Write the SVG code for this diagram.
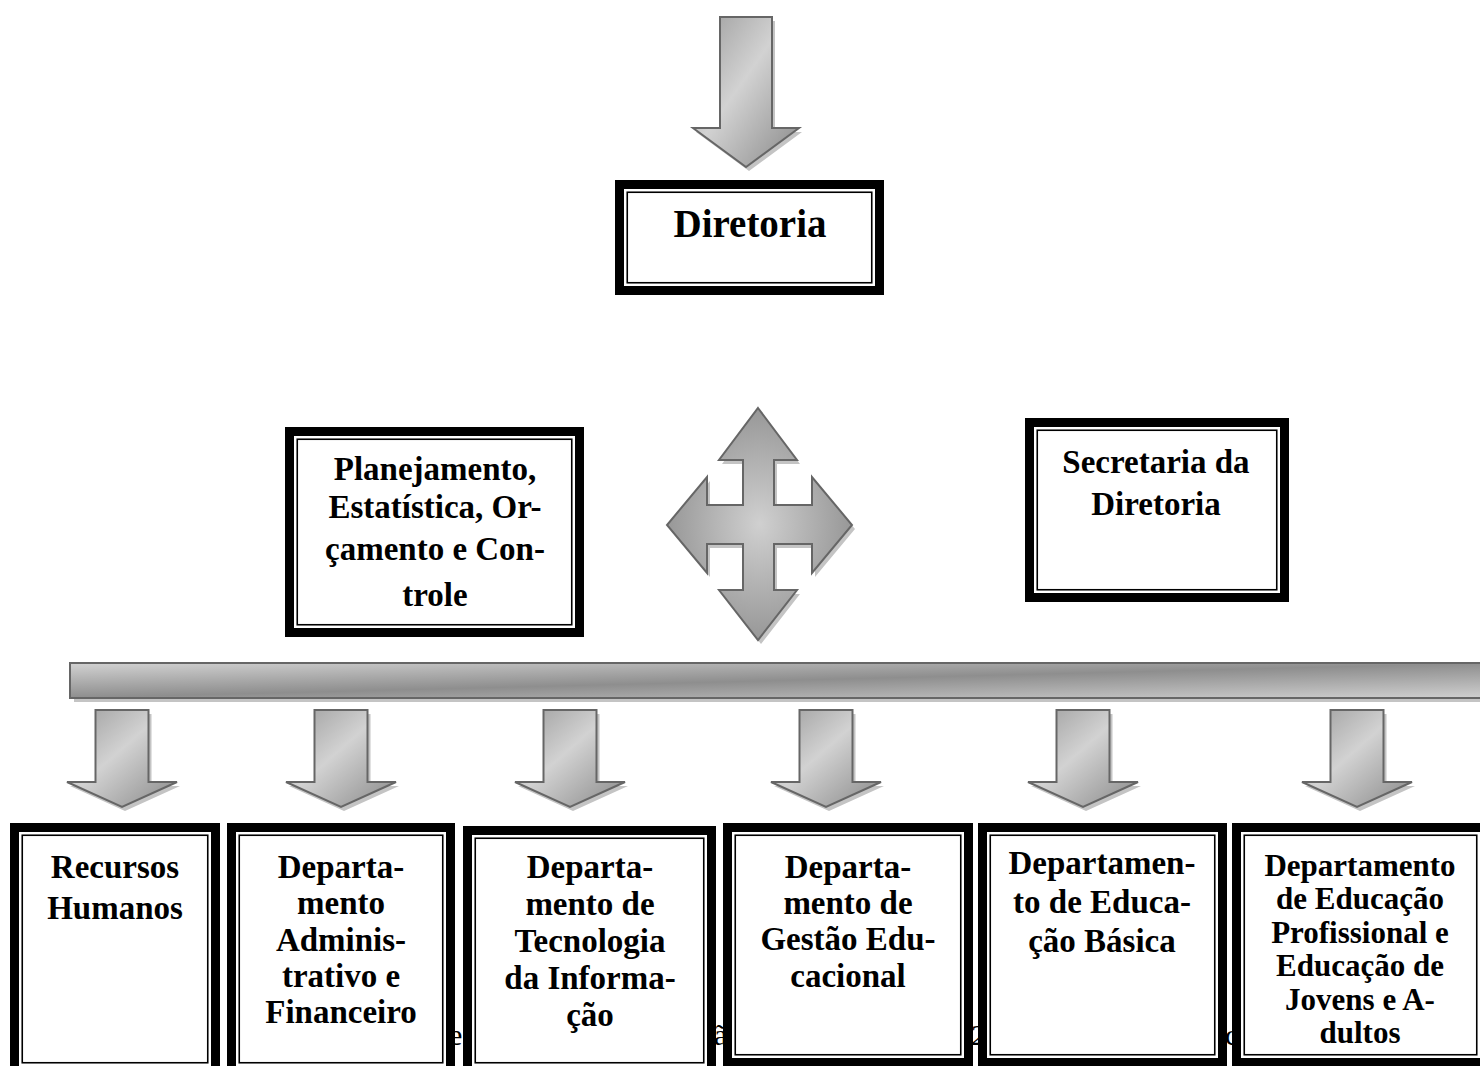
<svg xmlns="http://www.w3.org/2000/svg" width="1480" height="1066" viewBox="0 0 1480 1066">
<style>
.thick{fill:#fff;stroke:#000;stroke-width:9}
.thin{fill:none;stroke:#000;stroke-width:1.6}
.t{font-family:"Liberation Serif","Times New Roman",serif;font-weight:bold;font-size:33px;fill:#000;text-anchor:middle}
.stray{font-family:"Liberation Serif","Times New Roman",serif;font-size:30px;fill:#000}
.arr{fill:url(#ga);stroke:#666;stroke-width:2;stroke-linejoin:miter}
.sh{fill:#c4c4c4}
</style>
<defs>
<linearGradient id="ga" x1="0" y1="0" x2="1" y2="1">
<stop offset="0" stop-color="#9a9a9a"/>
<stop offset="0.45" stop-color="#d2d2d2"/>
<stop offset="1" stop-color="#888"/>
</linearGradient>
<radialGradient id="gr" cx="0.5" cy="0.5" r="0.6">
<stop offset="0" stop-color="#d0d0d0"/>
<stop offset="1" stop-color="#8c8c8c"/>
</radialGradient>
<linearGradient id="gb" x1="0" y1="0" x2="1" y2="1">
<stop offset="0" stop-color="#d2d2d2"/>
<stop offset="0.5" stop-color="#8e8e8e"/>
<stop offset="1" stop-color="#d0d0d0"/>
</linearGradient>
<path id="small" d="M-26.5,0 H26.5 V72 H55 L0,97 L-55,72 H-26.5 Z"/>
</defs>

<g id="stray-text">
<text class="stray" x="449" y="1045">e</text>
<text class="stray" x="714" y="1045">ã</text>
<text class="stray" x="971" y="1045">2</text>
<text class="stray" x="1225" y="1045">c</text>
</g>

<g id="connectors">
<g id="top-arrow">
<path class="sh" transform="translate(3,4)" d="M720,17 H772 V128 H799 L746,167 L693,128 H720 Z"/>
<path class="arr" d="M720,17 H772 V128 H799 L746,167 L693,128 H720 Z"/>
</g>
<g id="quad-arrow">
<path class="sh" transform="translate(3,4)" d="M758,408 L797,460 L774,460 L774,505 L812,505 L812,477 L852,525 L812,573 L812,544 L774,544 L774,590 L797,590 L758,640 L719,590 L743,590 L743,544 L707,544 L707,573 L667,525 L707,477 L707,505 L743,505 L743,460 L719,460 Z"/>
<path fill="url(#gr)" stroke="#666" stroke-width="2" d="M758,408 L797,460 L774,460 L774,505 L812,505 L812,477 L852,525 L812,573 L812,544 L774,544 L774,590 L797,590 L758,640 L719,590 L743,590 L743,544 L707,544 L707,573 L667,525 L707,477 L707,505 L743,505 L743,460 L719,460 Z"/>
</g>
<g id="bar">
<rect class="sh" x="74" y="667" width="1420" height="35"/>
<rect x="70" y="663" width="1420" height="35" fill="url(#gb)" stroke="#666" stroke-width="2"/>
</g>
<g id="small-arrows">
<use href="#small" class="sh" x="125" y="714"/>
<use href="#small" class="arr" x="122" y="710"/>
<use href="#small" class="sh" x="344" y="714"/>
<use href="#small" class="arr" x="341" y="710"/>
<use href="#small" class="sh" x="573" y="714"/>
<use href="#small" class="arr" x="570" y="710"/>
<use href="#small" class="sh" x="829" y="714"/>
<use href="#small" class="arr" x="826" y="710"/>
<use href="#small" class="sh" x="1086" y="714"/>
<use href="#small" class="arr" x="1083" y="710"/>
<use href="#small" class="sh" x="1360" y="714"/>
<use href="#small" class="arr" x="1357" y="710"/>
</g>
</g>

<g id="diretoria">
<rect class="thick" x="619.5" y="184.5" width="260" height="106"/>
<rect class="thin" x="627.25" y="192.25" width="244.5" height="90.5"/>
<text class="t" x="750" y="237" style="font-size:39px">Diretoria</text>
</g>

<g id="planejamento">
<rect class="thick" x="289.5" y="431.5" width="290" height="201"/>
<rect class="thin" x="297.25" y="439.25" width="274.5" height="185.5"/>
<text class="t" x="435" y="480">Planejamento,</text>
<text class="t" x="435" y="518">Estatística, Or-</text>
<text class="t" x="435" y="560">çamento e Con-</text>
<text class="t" x="435" y="606">trole</text>
</g>

<g id="secretaria">
<rect class="thick" x="1029.5" y="422.5" width="255" height="175"/>
<rect class="thin" x="1037.25" y="430.25" width="239.5" height="159.5"/>
<text class="t" x="1156" y="473">Secretaria da</text>
<text class="t" x="1156" y="515">Diretoria</text>
</g>

<g id="recursos-humanos">
<rect class="thick" x="14.5" y="827.5" width="201" height="243"/>
<rect class="thin" x="22.25" y="835.25" width="185.5" height="227.5"/>
<text class="t" x="115" y="878">Recursos</text>
<text class="t" x="115" y="919">Humanos</text>
</g>

<g id="dep-administrativo">
<rect class="thick" x="231.5" y="827.5" width="219" height="243"/>
<rect class="thin" x="239.25" y="835.25" width="203.5" height="227.5"/>
<text class="t" x="341" y="878">Departa-</text>
<text class="t" x="341" y="914">mento</text>
<text class="t" x="341" y="951">Adminis-</text>
<text class="t" x="341" y="987">trativo e</text>
<text class="t" x="341" y="1023">Financeiro</text>
</g>

<g id="dep-tecnologia">
<rect class="thick" x="467.5" y="830.5" width="244" height="240"/>
<rect class="thin" x="475.25" y="838.25" width="228.5" height="224.5"/>
<text class="t" x="590" y="878">Departa-</text>
<text class="t" x="590" y="915">mento de</text>
<text class="t" x="590" y="952">Tecnologia</text>
<text class="t" x="590" y="989">da Informa-</text>
<text class="t" x="590" y="1026">ção</text>
</g>

<g id="dep-gestao">
<rect class="thick" x="727.5" y="827.5" width="241" height="235"/>
<rect class="thin" x="735.25" y="835.25" width="225.5" height="219.5"/>
<text class="t" x="848" y="878">Departa-</text>
<text class="t" x="848" y="914">mento de</text>
<text class="t" x="848" y="950">Gestão Edu-</text>
<text class="t" x="848" y="987">cacional</text>
</g>

<g id="dep-educacao-basica">
<rect class="thick" x="982.5" y="827.5" width="240" height="235"/>
<rect class="thin" x="990.25" y="835.25" width="224.5" height="219.5"/>
<text class="t" x="1102" y="874">Departamen-</text>
<text class="t" x="1102" y="913">to de Educa-</text>
<text class="t" x="1102" y="952">ção Básica</text>
</g>

<g id="dep-educacao-profissional">
<rect class="thick" x="1236.5" y="827.5" width="248" height="235"/>
<rect class="thin" x="1244.25" y="835.25" width="232.5" height="219.5"/>
<text class="t" x="1360" y="876" style="font-size:31px">Departamento</text>
<text class="t" x="1360" y="909" style="font-size:31px">de Educação</text>
<text class="t" x="1360" y="943" style="font-size:31px">Profissional e</text>
<text class="t" x="1360" y="976" style="font-size:31px">Educação de</text>
<text class="t" x="1360" y="1010" style="font-size:31px">Jovens e A-</text>
<text class="t" x="1360" y="1043" style="font-size:31px">dultos</text>
</g>
</svg>
